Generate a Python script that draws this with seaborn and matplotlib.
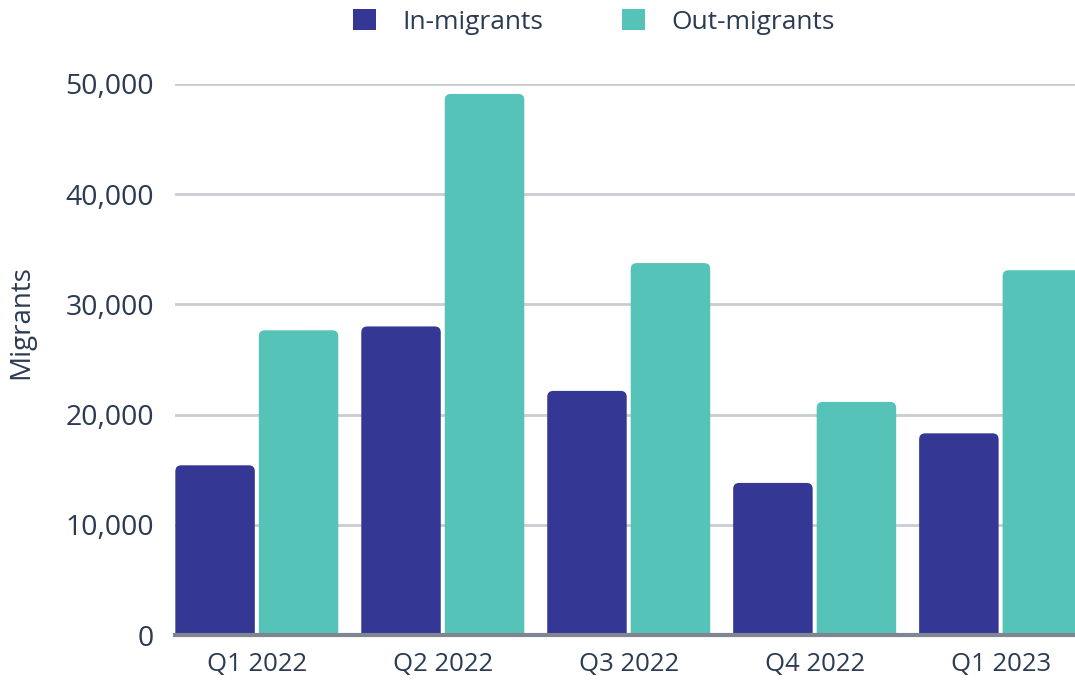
import matplotlib
matplotlib.use("Agg")
import matplotlib.pyplot as plt
import seaborn as sns
import pandas as pd
from matplotlib.patches import FancyBboxPatch, Rectangle
from matplotlib.ticker import FuncFormatter

quarters = ["Q1 2022", "Q2 2022", "Q3 2022", "Q4 2022", "Q1 2023"]
in_migrants = [15400, 28000, 22150, 13800, 18300]
out_migrants = [27650, 49100, 33750, 21150, 33100]
series_names = ["In-migrants", "Out-migrants"]
colors = ["#343894", "#55c3b8"]
text_color = "#2c3a52"

df = pd.DataFrame({
    "Quarter": quarters * 2,
    "Migrants": in_migrants + out_migrants,
    "Series": [series_names[0]] * len(quarters) + [series_names[1]] * len(quarters),
})

sns.set_theme(style="white")
plt.rcParams["font.family"] = ["Open Sans", "DejaVu Sans"]

fig = plt.figure(figsize=(10.75, 6.81), dpi=100)
ax = fig.add_axes([175 / 1075, 1 - 635 / 681, 1 - 175 / 1075, (635 - 84) / 681])

sns.barplot(data=df, x="Quarter", y="Migrants", hue="Series", hue_order=series_names,
            palette=colors, width=0.898, gap=0.048, legend=False, ax=ax, saturation=1)

ax.set_ylim(0, 50000)
ax.set_xlim(-0.44, 4.40)

# rounded top corners
rx = 6 / 186
ry = 6 * 50000 / 551
rects = [p for p in ax.patches if isinstance(p, Rectangle)]
for p in rects:
    x, y, w, h = p.get_x(), p.get_y(), p.get_width(), p.get_height()
    fc = p.get_facecolor()
    p.remove()
    fb = FancyBboxPatch((x, -3000), w, h + 3000,
                        boxstyle=f"round,pad=0,rounding_size={rx}",
                        mutation_aspect=ry / rx, facecolor=fc, edgecolor="none",
                        zorder=2)
    ax.add_patch(fb)

ax.set_yticks([0, 10000, 20000, 30000, 40000, 50000])
ax.yaxis.set_major_formatter(FuncFormatter(lambda v, _: f"{int(v):,}"))
ax.grid(axis="y", color="#c9ccd1", linewidth=2, zorder=0)
ax.set_axisbelow(True)
for s in ["top", "right", "left"]:
    ax.spines[s].set_visible(False)
ax.spines["bottom"].set_color("#7f8691")
ax.spines["bottom"].set_linewidth(3)
ax.spines["bottom"].set_zorder(3)

ax.tick_params(axis="y", length=0, pad=15, labelsize=20.5, labelcolor=text_color)
ax.tick_params(axis="x", length=0, pad=12, labelsize=18.5, labelcolor=text_color)
ax.set_xlabel("")
ax.set_ylabel("Migrants", fontsize=20, color=text_color)
ax.yaxis.set_label_coords(-0.1556, 0.568)

handles = [plt.Rectangle((0, 0), 1, 1, facecolor=c, edgecolor="none") for c in colors]
fig.legend(handles, series_names, loc="center", bbox_to_anchor=(594 / 1075, 1 - 22 / 681),
           ncol=2, frameon=False, fontsize=19, labelcolor=text_color,
           handlelength=0.85, handleheight=0.85, handletextpad=1.0, columnspacing=3.0)

fig.savefig("out.png", dpi=100)
